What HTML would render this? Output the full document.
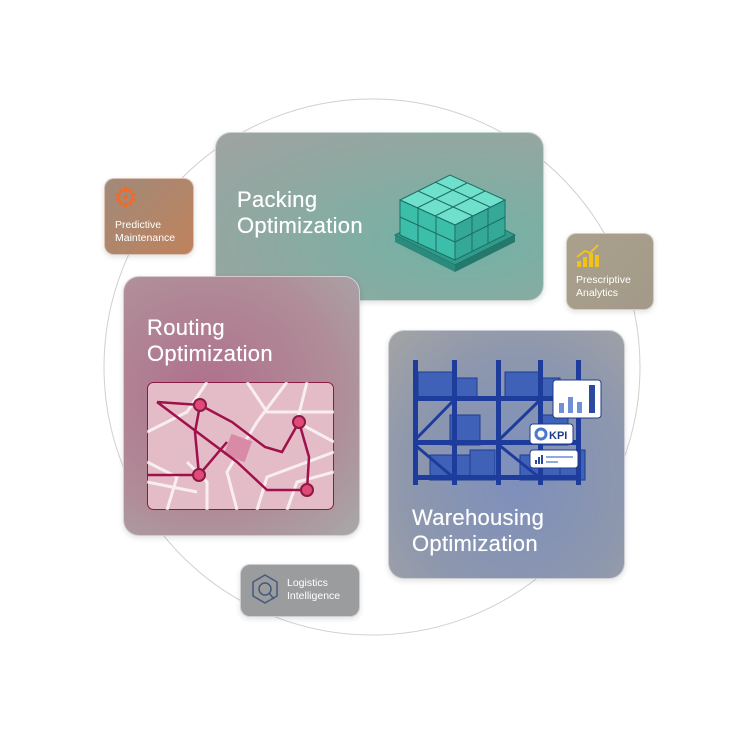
<!DOCTYPE html>
<html><head><meta charset="utf-8"><style>
body{margin:0;background:#fff;width:750px;height:750px;overflow:hidden;position:relative;font-family:"Liberation Sans",sans-serif}
.b{position:absolute;border-radius:16px;box-shadow:0 2px 6px rgba(0,0,0,.12);border:1.5px solid rgba(255,255,255,.5);box-sizing:border-box}
.t{position:absolute;color:#fff;font-size:22px;line-height:26px;letter-spacing:.3px;text-shadow:0 0 .5px #fff}
.s{position:absolute;color:#fff;font-size:10.5px;line-height:13px}
</style></head><body>
<svg width="750" height="750" style="position:absolute;left:0;top:0">
<circle cx="372" cy="367" r="268" fill="none" stroke="#d0d0d0" stroke-width="1"/>
</svg>
<div class="b" style="left:215px;top:132px;width:329px;height:169px;background:radial-gradient(ellipse at 75% 65%,#72b3a5,#8da9a1 55%,#a0a3a2)"></div>
<div class="t" style="left:237px;top:187px">Packing<br>Optimization</div>
<svg style="position:absolute;left:390px;top:160px" width="130" height="120">
<polygon points="5,75 65,105 125,75 65,45" fill="#2e9b8b" stroke="#1e6e62"/>
<polygon points="5,75 65,105 65,112 5,82" fill="#2a8a7c"/>
<polygon points="65,105 125,75 125,82 65,112" fill="#24786c"/>
<polygon points="10,40 60,15 115,40 65,65" fill="#6fe0cb" stroke="#1e6e62"/>
<polygon points="10,40 65,65 65,100 10,75" fill="#3cbfaa" stroke="#1e6e62"/>
<polygon points="65,65 115,40 115,75 65,100" fill="#34a997" stroke="#1e6e62"/>
<g stroke="#1e6e62" stroke-width="1"><line x1="28" y1="31" x2="83" y2="56"/><line x1="45" y1="22" x2="100" y2="47"/><line x1="27" y1="48" x2="77" y2="23"/><line x1="45" y1="56" x2="95" y2="31"/><line x1="28" y1="48" x2="28" y2="83"/><line x1="46" y1="57" x2="46" y2="92"/><line x1="82" y1="57" x2="82" y2="92"/><line x1="98" y1="49" x2="98" y2="84"/><line x1="10" y1="57" x2="65" y2="82"/><line x1="65" y1="82" x2="115" y2="57"/></g>
</svg>
<div class="b" style="left:104px;top:178px;width:90px;height:77px;border-radius:10px;background:linear-gradient(135deg,#a08a7a,#c0825c)"></div>
<div style="position:absolute;left:113px;top:183px;color:#f06a2a;font-size:28px;line-height:30px">⚙</div>
<div class="s" style="left:115px;top:219px">Predictive<br>Maintenance</div>
<div class="b" style="left:566px;top:233px;width:88px;height:77px;border-radius:10px;background:linear-gradient(135deg,#a9a18b,#a3998a)"></div>
<svg style="position:absolute;left:576px;top:243px" width="26" height="26"><g fill="#f3c21a"><rect x="1" y="18" width="4" height="6"/><rect x="7" y="14" width="4" height="10"/><rect x="13" y="10" width="4" height="14"/><rect x="19" y="12" width="4" height="12"/></g><polyline points="1,14 9,8 14,10 22,2" stroke="#f3c21a" stroke-width="2" fill="none"/></svg>
<div class="s" style="left:576px;top:274px">Prescriptive<br>Analytics</div>
<div class="b" style="left:123px;top:276px;width:237px;height:260px;background:radial-gradient(ellipse at 35% 45%,#b0708c,#b08c98 60%,#a8a8a8)"></div>
<div class="t" style="left:147px;top:315px">Routing<br>Optimization</div>
<svg style="position:absolute;left:147px;top:382px" width="187" height="128">
<rect x="0.5" y="0.5" width="186" height="127" rx="6" fill="#e3bcc8" stroke="#8b1a45"/>
<g stroke="#fff" stroke-width="3" fill="none" opacity=".75"><path d="M0,50 L40,30 L60,0"/><path d="M20,128 L30,95 L0,80"/><path d="M90,128 L80,90 L110,40 L140,0"/><path d="M110,128 L120,95 L187,70"/><path d="M140,128 L150,100 L187,90"/><path d="M60,128 L60,100 L40,80"/><path d="M100,0 L120,30 L187,30"/><path d="M160,0 L150,40 L187,60"/><path d="M0,100 L50,110"/></g>
<rect x="80" y="55" width="22" height="22" fill="#d98aa6" transform="rotate(20 91 66)"/>
<g stroke="#a0104a" stroke-width="2.5" fill="none"><path d="M10,20 L53,23 L85,40 L118,65 L135,70 L152,40"/><path d="M10,20 L90,80 L120,108 L160,108 L162,75 L152,40"/><path d="M53,23 L48,50 L52,93 L80,60"/><path d="M0,93 L52,93"/></g>
<g fill="#e04a78" stroke="#8b1a45" stroke-width="2"><circle cx="53" cy="23" r="6"/><circle cx="152" cy="40" r="6"/><circle cx="52" cy="93" r="6"/><circle cx="160" cy="108" r="6"/></g>
</svg>
<div class="b" style="left:388px;top:330px;width:237px;height:249px;background:radial-gradient(ellipse at 55% 60%,#7d8fbc,#8d97ad 60%,#a4a4a4)"></div>
<svg style="position:absolute;left:410px;top:360px" width="200" height="125">
<g fill="#3f62b8" stroke="#1e3c8c"><rect x="8" y="12" width="35" height="25"/><rect x="45" y="18" width="22" height="19"/><rect x="95" y="12" width="35" height="25"/><rect x="130" y="18" width="20" height="19"/><rect x="40" y="55" width="30" height="30"/><rect x="130" y="55" width="28" height="30"/><rect x="20" y="95" width="40" height="25"/><rect x="60" y="90" width="25" height="30"/><rect x="110" y="95" width="40" height="25"/><rect x="150" y="90" width="25" height="30"/></g>
<g fill="#1e3c9c"><rect x="3" y="0" width="5" height="125"/><rect x="42" y="0" width="5" height="125"/><rect x="86" y="0" width="5" height="125"/><rect x="128" y="0" width="5" height="125"/><rect x="166" y="0" width="5" height="125"/><rect x="3" y="36" width="168" height="5"/><rect x="3" y="80" width="168" height="5"/><rect x="3" y="115" width="168" height="5"/></g>
<g stroke="#1e3c9c" stroke-width="3"><line x1="5" y1="80" x2="44" y2="40"/><line x1="5" y1="85" x2="44" y2="118"/><line x1="89" y1="80" x2="130" y2="40"/><line x1="89" y1="85" x2="130" y2="118"/></g>
</svg>
<svg style="position:absolute;left:526px;top:378px" width="80" height="95">
<rect x="27" y="2" width="48" height="38" rx="3" fill="#fff" stroke="#1e3c8c"/><g fill="#6f8fd6"><rect x="33" y="25" width="5" height="10"/><rect x="42" y="19" width="5" height="16"/><rect x="51" y="24" width="5" height="11"/></g><rect x="63" y="7" width="6" height="28" fill="#2a4aa0"/>
<rect x="4" y="46" width="43" height="20" rx="3" fill="#fff" stroke="#1e3c8c"/><circle cx="15" cy="56" r="5" fill="none" stroke="#4a78d0" stroke-width="3"/><text x="23" y="61" font-size="11" font-weight="bold" fill="#1e3c8c" font-family="Liberation Sans">KPI</text>
<rect x="4" y="72" width="48" height="18" rx="3" fill="#fff" stroke="#1e3c8c"/><g fill="#2a4aa0"><rect x="9" y="82" width="2" height="4"/><rect x="12" y="79" width="2" height="7"/><rect x="15" y="77" width="2" height="9"/></g><rect x="20" y="78" width="27" height="2" fill="#8faae0"/><rect x="20" y="83" width="12" height="2" fill="#8faae0"/>
</svg>
<div class="t" style="left:412px;top:505px">Warehousing<br>Optimization</div>
<div class="b" style="left:240px;top:564px;width:120px;height:53px;border-radius:10px;background:#9b9c9e"></div>
<svg style="position:absolute;left:251px;top:573px" width="28" height="32"><polygon points="14,2 26,9 26,23 14,30 2,23 2,9" fill="none" stroke="#445a7a" stroke-width="1.5"/><circle cx="14" cy="16" r="6" fill="none" stroke="#445a7a" stroke-width="1.5"/><line x1="18" y1="20" x2="23" y2="26" stroke="#445a7a" stroke-width="1.5"/></svg>
<div class="s" style="left:287px;top:577px">Logistics<br>Intelligence</div>
</body></html>
